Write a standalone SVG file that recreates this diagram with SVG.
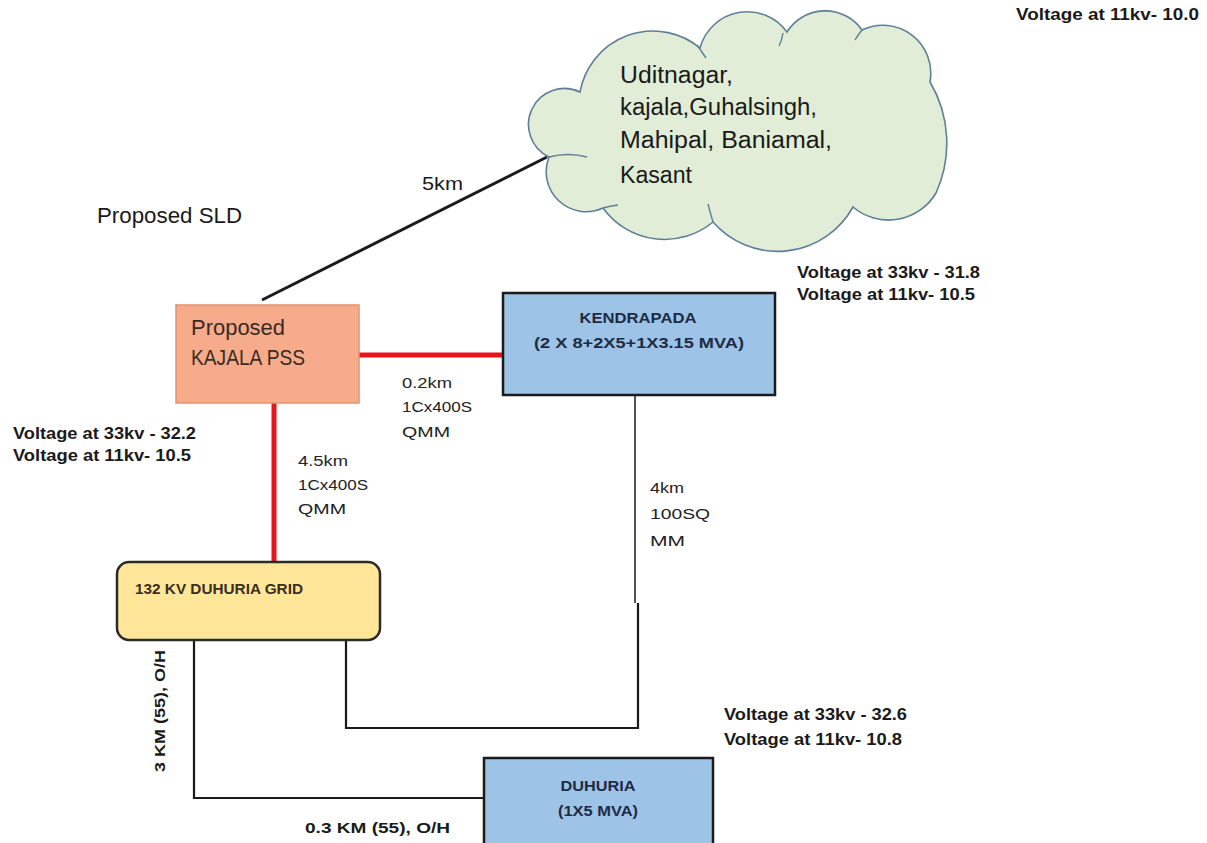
<svg xmlns="http://www.w3.org/2000/svg" width="1207" height="843" viewBox="0 0 1207 843">
<style>
.reg{font-family:"Liberation Sans",Arial,sans-serif;fill:#1a1a1a}
.bold{font-family:"Liberation Sans",Arial,sans-serif;font-weight:bold;fill:#1a1a1a}
.blk{stroke:#1a1a1a;fill:none}
.red{stroke:#e8141b;stroke-width:5;fill:none}
.volt{font-size:17px}
.lbl{font-size:15.5px;fill:#222}
.nav{fill:#1f2b45}
</style>
<rect width="1207" height="843" fill="#ffffff"/>
<g id="connectors">
<line class="blk" x1="262" y1="300" x2="547" y2="157" stroke-width="3"/>
<line class="red" x1="359" y1="355" x2="503" y2="355"/>
<line class="red" x1="274" y1="403" x2="274" y2="562"/>
<line class="blk" x1="635" y1="395" x2="635" y2="603" stroke-width="1.5"/>
<polyline class="blk" points="638,603 638,728 346,728 346,640" stroke-width="2.2"/>
<polyline class="blk" points="194,640 194,798 484,798" stroke-width="2.2"/>
</g>
<g id="cloud">
<path d="M549,157 A36,36 0 0 1 580,92 A74,74 0 0 1 700,48 A49,49 0 0 1 787,32 A45,45 0 0 1 862,30 A48,48 0 0 1 930,82 A120,120 0 0 1 936,193 A55,55 0 0 1 853,207 A86,86 0 0 1 713,222 A76,76 0 0 1 603,208 A40,40 0 0 1 549,157 Z" fill="#e1edd6" stroke="#5f7f98" stroke-width="1.6"/>
<path d="M549,157 Q568,152 587,157 M697,45 Q702,52 706,58 M783,33 Q782,40 779,46 M862,30 Q858,35 855,40 M713,222 Q710,212 708,204 M603,208 Q610,206 618,205" fill="none" stroke="#5f7f98" stroke-width="1.4"/>
<text class="reg" font-size="23" x="620" y="83" textLength="113" lengthAdjust="spacingAndGlyphs">Uditnagar,</text>
<text class="reg" font-size="23" x="620" y="115" textLength="197" lengthAdjust="spacingAndGlyphs">kajala,Guhalsingh,</text>
<text class="reg" font-size="23" x="620" y="148" textLength="212" lengthAdjust="spacingAndGlyphs">Mahipal, Baniamal,</text>
<text class="reg" font-size="23" x="620" y="183" textLength="72" lengthAdjust="spacingAndGlyphs">Kasant</text>
</g>
<g id="kajala">
<rect x="176" y="305" width="183" height="98" fill="#f6ab8b" stroke="#e3936f" stroke-width="1.5"/>
<text class="reg" font-size="22" x="191" y="335" textLength="94" lengthAdjust="spacingAndGlyphs" style="fill:#3b2a22">Proposed</text>
<text class="reg" font-size="22" x="191" y="365" textLength="114" lengthAdjust="spacingAndGlyphs" style="fill:#3b2a22">KAJALA PSS</text>
</g>
<g id="kendrapada">
<rect x="503" y="293" width="272" height="102" fill="#9dc3e6" stroke="#1a1a1a" stroke-width="2.5"/>
<text class="bold nav" font-size="15" x="638" y="323" text-anchor="middle" textLength="117" lengthAdjust="spacingAndGlyphs">KENDRAPADA</text>
<text class="bold nav" font-size="15" x="639" y="348" text-anchor="middle" textLength="210" lengthAdjust="spacingAndGlyphs">(2 X 8+2X5+1X3.15 MVA)</text>
</g>
<g id="grid">
<rect x="117" y="562" width="263" height="78" rx="12" fill="#ffe699" stroke="#2a2a2a" stroke-width="2.5"/>
<text class="bold" font-size="15" x="135" y="594" textLength="168" lengthAdjust="spacingAndGlyphs" style="fill:#3a2e1c">132 KV DUHURIA GRID</text>
</g>
<g id="duhuria">
<rect x="484" y="758" width="229" height="95" fill="#9dc3e6" stroke="#1a1a1a" stroke-width="2.5"/>
<text class="bold nav" font-size="15" x="598" y="791" text-anchor="middle" textLength="75" lengthAdjust="spacingAndGlyphs">DUHURIA</text>
<text class="bold nav" font-size="15" x="598" y="816" text-anchor="middle" textLength="80" lengthAdjust="spacingAndGlyphs">(1X5 MVA)</text>
</g>
<g id="labels">
<text class="reg" font-size="22" x="97" y="223" textLength="145" lengthAdjust="spacingAndGlyphs">Proposed SLD</text>
<text class="reg" font-size="19" x="422" y="190" textLength="41" lengthAdjust="spacingAndGlyphs">5km</text>
<text class="reg lbl" x="402" y="388" textLength="50" lengthAdjust="spacingAndGlyphs">0.2km</text>
<text class="reg lbl" x="402" y="412" textLength="70" lengthAdjust="spacingAndGlyphs">1Cx400S</text>
<text class="reg lbl" x="402" y="437" textLength="48" lengthAdjust="spacingAndGlyphs">QMM</text>
<text class="reg lbl" x="298" y="466" textLength="50" lengthAdjust="spacingAndGlyphs">4.5km</text>
<text class="reg lbl" x="298" y="490" textLength="70" lengthAdjust="spacingAndGlyphs">1Cx400S</text>
<text class="reg lbl" x="298" y="514" textLength="48" lengthAdjust="spacingAndGlyphs">QMM</text>
<text class="reg lbl" x="650" y="493" textLength="34" lengthAdjust="spacingAndGlyphs">4km</text>
<text class="reg lbl" x="650" y="519" textLength="60" lengthAdjust="spacingAndGlyphs">100SQ</text>
<text class="reg lbl" x="650" y="546" textLength="35" lengthAdjust="spacingAndGlyphs">MM</text>
<text class="bold volt" x="797" y="278" textLength="183" lengthAdjust="spacingAndGlyphs">Voltage at 33kv - 31.8</text>
<text class="bold volt" x="797" y="300" textLength="178" lengthAdjust="spacingAndGlyphs">Voltage at 11kv- 10.5</text>
<text class="bold volt" x="13" y="439" textLength="183" lengthAdjust="spacingAndGlyphs">Voltage at 33kv - 32.2</text>
<text class="bold volt" x="13" y="461" textLength="178" lengthAdjust="spacingAndGlyphs">Voltage at 11kv- 10.5</text>
<text class="bold volt" x="724" y="720" textLength="183" lengthAdjust="spacingAndGlyphs">Voltage at 33kv - 32.6</text>
<text class="bold volt" x="724" y="745" textLength="178" lengthAdjust="spacingAndGlyphs">Voltage at 11kv- 10.8</text>
<text class="bold volt" x="1016" y="20" textLength="183" lengthAdjust="spacingAndGlyphs">Voltage at 11kv- 10.0</text>
<text class="bold" font-size="15" x="305" y="833" textLength="145" lengthAdjust="spacingAndGlyphs">0.3 KM (55), O/H</text>
<text class="bold" font-size="15" transform="translate(165,772) rotate(-90)" textLength="122" lengthAdjust="spacingAndGlyphs">3 KM (55), O/H</text>
</g>
</svg>
